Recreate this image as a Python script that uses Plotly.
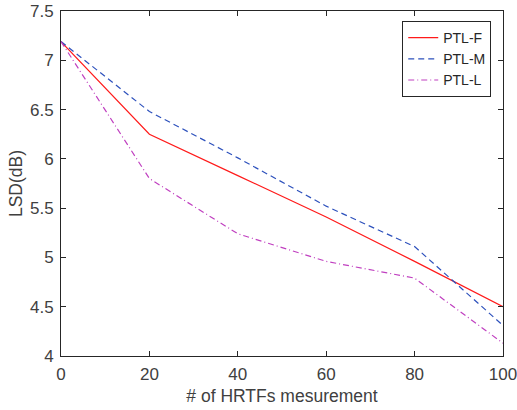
import plotly.graph_objects as go

x_vals = [0, 20, 40, 60, 80, 100]
ptl_f = [7.19, 6.25, 5.83, 5.41, 4.96, 4.50]
ptl_m = [7.19, 6.48, 6.01, 5.52, 5.11, 4.31]
ptl_l = [7.19, 5.80, 5.24, 4.96, 4.79, 4.13]
series_names = ["PTL-F", "PTL-M", "PTL-L"]
x_ticks = [0, 20, 40, 60, 80, 100]
y_ticks = [4, 4.5, 5, 5.5, 6, 6.5, 7, 7.5]

FONT = "Liberation Sans, Arial, sans-serif"

fig = go.Figure()
fig.add_trace(go.Scatter(x=x_vals, y=ptl_f, name=series_names[0], mode="lines",
                         line=dict(color="#ff1a1a", width=1.2)))
fig.add_trace(go.Scatter(x=x_vals, y=ptl_m, name=series_names[1], mode="lines",
                         line=dict(color="#2c50bc", width=1.2, dash="6px,4px")))
fig.add_trace(go.Scatter(x=x_vals, y=ptl_l, name=series_names[2], mode="lines",
                         line=dict(color="#c040c0", width=1.2, dash="6px,3px,1px,3px")))

axis_common = dict(
    showline=True, linecolor="#262626", linewidth=1, mirror="ticks",
    ticks="inside", ticklen=5, tickcolor="#262626", tickwidth=1,
    showgrid=False, zeroline=False, automargin=False,
    ticklabeloverflow="allow",
    tickfont=dict(family=FONT, size=17, color="#404040"),
)

fig.update_xaxes(range=[0, 100], tickvals=x_ticks,
                 title=dict(text="# of HRTFs mesurement",
                            font=dict(family=FONT, size=17.5, color="#404040"),
                            standoff=6),
                 ticklabelstandoff=3,
                 **axis_common)
fig.update_yaxes(range=[4, 7.5], tickvals=y_ticks, ticktext=[f"{v:g}" for v in y_ticks],
                 title=dict(text="LSD(dB)",
                            font=dict(family=FONT, size=17.5, color="#404040"),
                            standoff=2),
                 ticklabelstandoff=3,
                 **axis_common)

fig.update_layout(
    width=517, height=410,
    margin=dict(l=61, r=14, t=11, b=54),
    paper_bgcolor="white", plot_bgcolor="white",
    showlegend=True,
    legend=dict(x=0.772, y=0.971, xanchor="left", yanchor="top",
                bordercolor="#262626", borderwidth=1, bgcolor="white",
                font=dict(family=FONT, size=14, color="#262626"),
                itemwidth=30, tracegroupgap=0),
)

fig.write_html("out.html", config={"displayModeBar": False},
               post_script="document.body.style.margin='0';document.body.style.overflow='hidden';")
